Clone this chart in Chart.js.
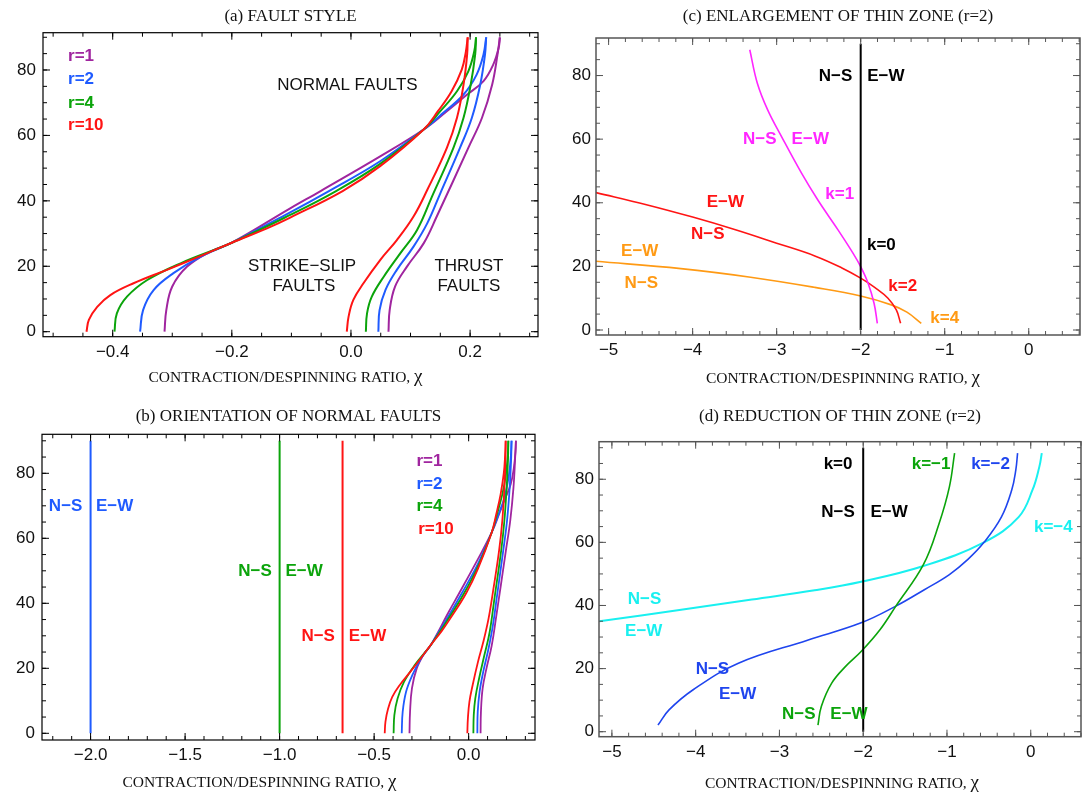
<!DOCTYPE html>
<html>
<head>
<meta charset="utf-8">
<script src="https://cdn.jsdelivr.net/npm/chart.js@4.4.1/dist/chart.umd.min.js"></script>
<style>
  body { margin: 0; background: #fff; }
  #wrap { position: relative; width: 1086px; height: 792px; }
  canvas { position: absolute; }
</style>
</head>
<body>
<div id="wrap">
  <canvas id="pa" width="545" height="396" style="left:0;top:0"></canvas>
  <canvas id="pb" width="545" height="396" style="left:0;top:396px"></canvas>
  <canvas id="pc" width="541" height="396" style="left:545px;top:0"></canvas>
  <canvas id="pd" width="541" height="396" style="left:545px;top:396px"></canvas>
</div>
<script>
// ---- data: [chi, dip] pairs ----
// normal / strike-slip branch, one per r
const leftR1  = [[-0.313,0],[-0.31,6.6],[-0.3,13.8],[-0.275,19.9],[-0.236,24.5],[-0.2,27.2],[-0.102,37.7],[-0.051,43],[0.049,53.6],[0.122,61.8],[0.161,67.4],[0.193,72.2],[0.2225,76.6],[0.239,81.7],[0.248,86.8],[0.25,90]];
const leftR2  = [[-0.354,0],[-0.349,6.6],[-0.331,12.8],[-0.298,17.9],[-0.253,22.9],[-0.2,27.2],[-0.102,36.5],[-0.037,43],[0.049,52.1],[0.122,61.8],[0.155,66.9],[0.189,72.5],[0.211,78.6],[0.2225,84.7],[0.227,90]];
const leftR4  = [[-0.397,0],[-0.393,5.6],[-0.376,10.7],[-0.342,15.8],[-0.286,20.9],[-0.2,27.2],[-0.102,35.7],[-0.025,43],[0.049,51.3],[0.122,61.8],[0.15,67.4],[0.178,73.5],[0.197,79.6],[0.207,85.7],[0.21,90]];
const leftR10 = [[-0.444,0],[-0.44,3.6],[-0.426,7.6],[-0.404,11.2],[-0.365,14.8],[-0.309,18.9],[-0.253,23.1],[-0.2,27.2],[-0.141,31.6],[-0.102,34.9],[-0.014,43],[0.049,50.6],[0.122,61.8],[0.146,67.4],[0.169,73.5],[0.186,80.1],[0.193,85.7],[0.196,90]];
// thrust branch, one per r
const rightR1  = [[0.063,0],[0.065,6.6],[0.074,13.8],[0.094,19.9],[0.122,27],[0.144,35.2],[0.197,56.2],[0.22,65.4],[0.237,75.5],[0.246,84.7],[0.25,90]];
const rightR2  = [[0.046,0],[0.048,6.6],[0.058,12.8],[0.077,18.9],[0.105,26],[0.128,33.1],[0.15,42.3],[0.183,56.2],[0.203,65.4],[0.217,75.5],[0.225,84.7],[0.227,90]];
const rightR4  = [[0.025,0],[0.027,5.6],[0.035,10.7],[0.055,16.8],[0.083,24],[0.111,31.1],[0.136,41.3],[0.172,56.2],[0.189,65.4],[0.201,75.5],[0.2085,84.7],[0.21,90]];
const rightR10 = [[-0.007,0],[-0.004,4.6],[0.004,9.7],[0.021,14.8],[0.049,21.9],[0.077,28],[0.105,35.2],[0.128,43.3],[0.161,56.2],[0.178,65.4],[0.189,75.5],[0.195,84.7],[0.196,90]];
// (b) N-S / E-W boundaries for r=2, 4, 10
const boundaryB = [-2, -1, -0.667];
const dipSpan = [0, 90];
// (c) enlargement of thin zone, r=2
const kPos1 = [[-3.32,88.1],[-3.23,77.6],[-3.107,69.2],[-2.942,60.8],[-2.704,49.3],[-2.506,40.7],[-2.268,31.4],[-2.09,24.1],[-2.0,19.9],[-1.912,14.7],[-1.841,8.4],[-1.802,2.1]];
const kPos2 = [[-5.15,43.2],[-4.55,39.4],[-4.0,35.5],[-3.5,31.6],[-3.0,27.3],[-2.546,23.3],[-2.229,19.6],[-2.0,16.3],[-1.834,13.4],[-1.675,10],[-1.576,6.3],[-1.525,2.1]];
const kPos4 = [[-5.15,21.6],[-4.14,19.3],[-3.31,16.6],[-2.546,13.4],[-2.0,10.7],[-1.635,7.9],[-1.45,5.6],[-1.279,2.1]];
// (d) reduction of thin zone, r=2
const kNeg1 = [[-2.54,2.1],[-2.5,8],[-2.376,15.4],[-2.21,20.7],[-2.025,25.4],[-1.8,32.3],[-1.61,39.8],[-1.28,53],[-1.095,65.9],[-0.971,77.6],[-0.909,88.3]];
const kNeg2 = [[-4.45,2.1],[-4.318,6.9],[-4.03,13.3],[-3.49,21.7],[-2.665,29.0],[-2.025,34.5],[-1.61,39.8],[-1.27,45],[-0.971,49.8],[-0.75,54.6],[-0.558,60],[-0.351,68],[-0.227,76.6],[-0.178,83],[-0.157,88.3]];
const kNeg4 = [[-5.15,35],[-4.153,38.7],[-3.33,41.9],[-2.58,44.8],[-2.025,47.5],[-1.28,52.5],[-0.558,60],[-0.145,68],[0.021,76.6],[0.103,84],[0.132,88.3]];
const kZeroX = -2;

// tick labels
const xTicksA = [-0.4, -0.2, 0, 0.2];
const xTicksB = [-2, -1.5, -1, -0.5, 0];
const xTicksCD = [-5, -4, -3, -2, -1, 0];
const yTicks = [0, 20, 40, 60, 80];

const SANS = "'Liberation Sans', Arial, sans-serif";
const SERIF = "'Liberation Serif', 'Times New Roman', serif";
const PURPLE = '#a0259f', BLUE = '#1f5bff', GREEN = '#0ba40b', RED = '#ff1414';
const MAGENTA = '#ff26ff', ORANGE = '#ff9a14', CYAN = '#19f0f0', DBLUE = '#1f45ee', INK = '#111';
const M = '\u2212';
const X_TITLE = 'CONTRACTION/DESPINNING RATIO, ';

Chart.defaults.font.family = SANS;

// text annotations, in data coordinates
const LABELS = {
  pa: [
    {t: 'r=1', x: -0.475, y: 84.1, c: PURPLE, a: 'left'},
    {t: 'r=2', x: -0.475, y: 77.0, c: BLUE, a: 'left'},
    {t: 'r=4', x: -0.475, y: 69.8, c: GREEN, a: 'left'},
    {t: 'r=10', x: -0.475, y: 63.2, c: RED, a: 'left'},
    {t: 'NORMAL FAULTS', x: -0.006, y: 75.2, c: INK, w: 'normal'},
    {t: 'STRIKE' + M + 'SLIP', x: -0.082, y: 20.1, c: INK, w: 'normal'},
    {t: 'FAULTS', x: -0.079, y: 14.0, c: INK, w: 'normal'},
    {t: 'THRUST', x: 0.198, y: 20.1, c: INK, w: 'normal'},
    {t: 'FAULTS', x: 0.198, y: 14.0, c: INK, w: 'normal'}
  ],
  pb: [
    {t: 'N' + M + 'S', x: -2.132, y: 69.7, c: BLUE},
    {t: 'E' + M + 'W', x: -1.873, y: 69.7, c: BLUE},
    {t: 'N' + M + 'S', x: -1.13, y: 49.7, c: GREEN},
    {t: 'E' + M + 'W', x: -0.87, y: 49.7, c: GREEN},
    {t: 'N' + M + 'S', x: -0.796, y: 29.7, c: RED},
    {t: 'E' + M + 'W', x: -0.535, y: 29.7, c: RED},
    {t: 'r=1', x: -0.276, y: 83.6, c: PURPLE, a: 'left'},
    {t: 'r=2', x: -0.276, y: 76.6, c: BLUE, a: 'left'},
    {t: 'r=4', x: -0.276, y: 69.7, c: GREEN, a: 'left'},
    {t: 'r=10', x: -0.267, y: 62.8, c: RED, a: 'left'}
  ],
  pc: [
    {t: 'N' + M + 'S', x: -2.30, y: 79.7, c: '#000'},
    {t: 'E' + M + 'W', x: -1.70, y: 79.7, c: '#000'},
    {t: 'N' + M + 'S', x: -3.20, y: 59.8, c: MAGENTA},
    {t: 'E' + M + 'W', x: -2.60, y: 59.8, c: MAGENTA},
    {t: 'k=1', x: -2.25, y: 42.8, c: MAGENTA},
    {t: 'E' + M + 'W', x: -3.61, y: 40, c: RED},
    {t: 'N' + M + 'S', x: -3.82, y: 30, c: RED},
    {t: 'k=0', x: -1.754, y: 26.7, c: '#000'},
    {t: 'E' + M + 'W', x: -4.63, y: 24.7, c: ORANGE},
    {t: 'N' + M + 'S', x: -4.61, y: 14.7, c: ORANGE},
    {t: 'k=2', x: -1.50, y: 13.6, c: RED},
    {t: 'k=4', x: -1.0, y: 3.7, c: ORANGE}
  ],
  pd: [
    {t: 'k=0', x: -2.30, y: 84.6, c: '#000'},
    {t: 'k=' + M + '1', x: -1.19, y: 84.6, c: GREEN},
    {t: 'k=' + M + '2', x: -0.48, y: 84.6, c: DBLUE},
    {t: 'N' + M + 'S', x: -2.30, y: 69.6, c: '#000'},
    {t: 'E' + M + 'W', x: -1.69, y: 69.6, c: '#000'},
    {t: 'k=' + M + '4', x: 0.27, y: 64.8, c: CYAN},
    {t: 'N' + M + 'S', x: -4.61, y: 42.1, c: CYAN},
    {t: 'E' + M + 'W', x: -4.62, y: 31.8, c: CYAN},
    {t: 'N' + M + 'S', x: -3.80, y: 19.9, c: DBLUE},
    {t: 'E' + M + 'W', x: -3.50, y: 11.7, c: DBLUE},
    {t: 'N' + M + 'S', x: -2.77, y: 5.6, c: GREEN},
    {t: 'E' + M + 'W', x: -2.17, y: 5.6, c: GREEN}
  ]
};

// per-panel frame / heading settings
const PANELS = {
  pa: {title: '(a) FAULT STYLE', titleY: 16.7, xTitleY: 376.7, xShift: -5,
       color: '#000', width: 1.2, xMinor: 0.05},
  pb: {title: '(b) ORIENTATION OF NORMAL FAULTS', titleY: 20.7, xTitleY: 385.7, xShift: -29,
       color: '#000', width: 1.2, xMinor: 0.1},
  pc: {title: '(c) ENLARGEMENT OF THIN ZONE (r=2)', titleY: 16.7, xTitleY: 378, xShift: 5,
       color: '#555', width: 1.5, xMinor: 0.2},
  pd: {title: '(d) REDUCTION OF THIN ZONE (r=2)', titleY: 20.7, xTitleY: 386.7, xShift: 2,
       color: '#555', width: 1.5, xMinor: 0.2}
};

// frame with inward ticks on all four sides, like the original
const frameTicks = {
  id: 'frameTicks',
  afterDatasetsDraw(chart) {
    const f = PANELS[chart.canvas.id];
    const {ctx, chartArea: a, scales: {x, y}} = chart;
    ctx.save();
    ctx.strokeStyle = f.color;
    ctx.lineWidth = f.width;
    ctx.strokeRect(a.left, a.top, a.right - a.left, a.bottom - a.top);
    ctx.lineWidth = 1;
    const steps = (s, step) => {
      const out = [];
      for (let i = Math.ceil(s.min / step - 1e-6); i * step <= s.max + 1e-9; i++) out.push(i * step);
      return out;
    };
    const mark = (vals, len, horiz) => {
      ctx.beginPath();
      for (const v of vals) {
        if (horiz) {
          const px = x.getPixelForValue(v);
          ctx.moveTo(px, a.bottom); ctx.lineTo(px, a.bottom - len);
          ctx.moveTo(px, a.top); ctx.lineTo(px, a.top + len);
        } else {
          const py = y.getPixelForValue(v);
          ctx.moveTo(a.left, py); ctx.lineTo(a.left + len, py);
          ctx.moveTo(a.right, py); ctx.lineTo(a.right - len, py);
        }
      }
      ctx.stroke();
    };
    mark(steps(x, f.xMinor), 4, true);
    mark(steps(y, 5), 4, false);
    mark(x.ticks.map(t => t.value), 7, true);
    mark(y.ticks.map(t => t.value), 7, false);
    ctx.restore();
  }
};

// in-plot labels plus panel heading and axis title (centred on the plot frame)
const textLabels = {
  id: 'textLabels',
  afterDraw(chart) {
    const p = PANELS[chart.canvas.id];
    const {ctx, chartArea: a, scales: {x, y}} = chart;
    ctx.save();
    ctx.textBaseline = 'middle';
    for (const l of LABELS[chart.canvas.id]) {
      ctx.font = (l.w || 'bold') + ' 17px ' + SANS;
      ctx.fillStyle = l.c;
      ctx.textAlign = l.a || 'center';
      ctx.fillText(l.t, x.getPixelForValue(l.x), y.getPixelForValue(l.y));
    }
    const cx = (a.left + a.right) / 2;
    ctx.fillStyle = INK;
    ctx.textAlign = 'center';
    ctx.font = '17px ' + SERIF;
    ctx.fillText(p.title, cx, p.titleY);
    // axis title: capitals followed by a larger chi
    ctx.textBaseline = 'alphabetic';
    ctx.textAlign = 'left';
    const f1 = '15.5px ' + SERIF, f2 = '19px ' + SERIF;
    ctx.font = f1; const w1 = ctx.measureText(X_TITLE).width;
    ctx.font = f2; const w2 = ctx.measureText('\u03c7').width;
    const x0 = cx + p.xShift - (w1 + w2) / 2;
    ctx.font = f1; ctx.fillText(X_TITLE, x0, p.xTitleY + 5);
    ctx.font = f2; ctx.fillText('\u03c7', x0 + w1, p.xTitleY + 5);
    ctx.restore();
  }
};

const pts = arr => arr.map(([x, y]) => ({x, y}));
const curve = (arr, color, w) => ({
  data: pts(arr), borderColor: color, borderWidth: w, pointRadius: 0,
  showLine: true, tension: 0.4, fill: false
});
const vline = (xv, color, w) => ({
  data: dipSpan.map(d => ({x: xv, y: d})), borderColor: color, borderWidth: w,
  pointRadius: 0, showLine: true, tension: 0, fill: false
});
const fmt = (v, d) => (v < 0 ? M : '') + Math.abs(v).toFixed(d);

const faultCurves = w => [
  curve(leftR10, RED, w), curve(rightR10, RED, w),
  curve(leftR4, GREEN, w), curve(rightR4, GREEN, w),
  curve(leftR2, BLUE, w), curve(rightR2, BLUE, w),
  curve(leftR1, PURPLE, w), curve(rightR1, PURPLE, w)
];

function makePanel(id, p, datasets) {
  return new Chart(document.getElementById(id), {
    type: 'scatter',
    data: {datasets},
    options: {
      responsive: false,
      animation: false,
      events: [],
      layout: {padding: {left: 0, right: p.padRight, top: p.top, bottom: 0}},
      plugins: {
        legend: {display: false},
        tooltip: {enabled: false},
        title: {display: false}
      },
      scales: {
        x: {
          type: 'linear', min: p.x[0], max: p.x[1],
          grid: {display: false, drawTicks: false}, border: {display: false},
          afterFit: s => { s.height = p.xAxisH; },
          afterBuildTicks: s => { s.ticks = p.xTicks.map(v => ({value: v})); },
          ticks: {
            autoSkip: false, maxRotation: 0, padding: 5, color: INK,
            font: {size: 17}, callback: v => fmt(v, p.digits)
          }
        },
        y: {
          type: 'linear', min: p.y[0], max: p.y[1],
          grid: {display: false, drawTicks: false}, border: {display: false},
          afterFit: s => { s.width = p.left; },
          afterBuildTicks: s => { s.ticks = yTicks.map(v => ({value: v})); },
          ticks: {
            autoSkip: false, padding: p.yPad, color: INK,
            font: {size: 17}, callback: v => fmt(v, 0)
          }
        }
      }
    },
    plugins: [frameTicks, textLabels]
  });
}

makePanel('pa', {
  x: [-0.517, 0.314], y: [-1.53, 91.4], xTicks: xTicksA, digits: 1,
  left: 43, padRight: 7, top: 32.7, xAxisH: 59.3, yPad: 7
}, faultCurves(2));

makePanel('pb', {
  x: [-2.257, 0.351], y: [-2.06, 92], xTicks: xTicksB, digits: 1,
  left: 42, padRight: 10, top: 38.3, xAxisH: 52, yPad: 7
}, [
  vline(boundaryB[0], BLUE, 2), vline(boundaryB[1], GREEN, 2), vline(boundaryB[2], RED, 2),
  ...faultCurves(1.8)
]);

makePanel('pc', {
  x: [-5.15, 0.61], y: [-1.57, 91.8], xTicks: xTicksCD, digits: 0,
  left: 51, padRight: 6, top: 38, xAxisH: 61, yPad: 5
}, [
  vline(kZeroX, '#000', 2),
  curve(kPos1, MAGENTA, 1.6),
  curve(kPos2, RED, 1.6),
  curve(kPos4, ORANGE, 1.6)
]);

makePanel('pd', {
  x: [-5.154, 0.6], y: [-1.58, 91.9], xTicks: xTicksCD, digits: 0,
  left: 54, padRight: 5, top: 45.7, xAxisH: 55.3, yPad: 5
}, [
  vline(kZeroX, '#000', 2),
  curve(kNeg1, GREEN, 1.6),
  curve(kNeg2, DBLUE, 1.6),
  curve(kNeg4, CYAN, 2)
]);
</script>
</body>
</html>
